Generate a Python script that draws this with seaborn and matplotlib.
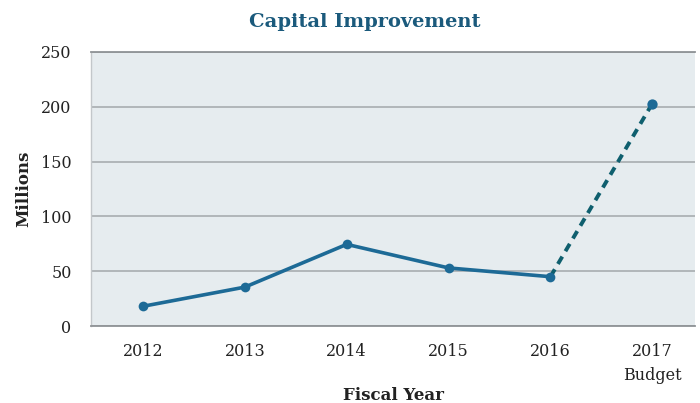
import matplotlib
matplotlib.use("Agg")
import matplotlib.pyplot as plt
import seaborn as sns
import pandas as pd

# Capital improvement spending, millions
years = ["2012", "2013", "2014", "2015", "2016", "2017\nBudget"]
millions = [18, 35.5, 74.5, 53, 45, 203]
actual_count = 5  # first five years are actuals, last is the budget

sns.set_theme(style="white")
plt.rcParams["font.family"] = ["DejaVu Serif"]

df = pd.DataFrame({"pos": range(len(years)), "year": years, "value": millions})
actual = df.iloc[:actual_count]
budget = df.iloc[actual_count - 1:]

fig = plt.figure(figsize=(7.0, 4.03), dpi=100)
ax = fig.add_axes([0.13, 0.191, 0.863, 0.68])
ax.set_facecolor("#e6ecef")

line_color = "#1d6a96"
dash_color = "#0f5f6e"

sns.lineplot(data=actual, x="pos", y="value", ax=ax, color=line_color,
             linewidth=2.6, marker="o", markersize=7, markeredgewidth=0, zorder=3)
sns.lineplot(data=budget, x="pos", y="value", ax=ax, color=dash_color,
             linewidth=2.8, linestyle=(0, (2.2, 1.6)), zorder=2)
sns.scatterplot(data=budget.iloc[1:], x="pos", y="value", ax=ax, color=line_color,
                s=55, linewidth=0, zorder=4)

ax.set_ylim(0, 250)
ax.set_yticks([0, 50, 100, 150, 200, 250])
ax.set_xlim(-0.51, 5.42)
ax.set_xticks(df["pos"])
ax.set_xticklabels(years, linespacing=1.55)
ax.yaxis.grid(True, color="#a3a8ab", linewidth=1.1)
ax.xaxis.grid(False)
ax.set_axisbelow(True)

for side in ("top", "bottom"):
    ax.spines[side].set_visible(True)
    ax.spines[side].set_color("#8f9396")
    ax.spines[side].set_linewidth(1.3)
ax.spines["left"].set_visible(True)
ax.spines["left"].set_color("#c3c7ca")
ax.spines["left"].set_linewidth(1.0)
ax.spines["right"].set_visible(False)

ax.tick_params(axis="both", length=0, labelsize=11.5, colors="#222222")
ax.tick_params(axis="y", pad=14)
ax.tick_params(axis="x", pad=12)

ax.set_xlabel("Fiscal Year", fontsize=12, fontweight="bold", color="#222222", labelpad=2)
ax.set_ylabel("Millions", fontsize=12, fontweight="bold", color="#222222", labelpad=6)
fig.text(0.521, 0.945, "Capital Improvement", fontsize=14, fontweight="bold",
         color="#1b5a7c", ha="center", va="center")

fig.savefig("out.png", dpi=100, facecolor="white")
